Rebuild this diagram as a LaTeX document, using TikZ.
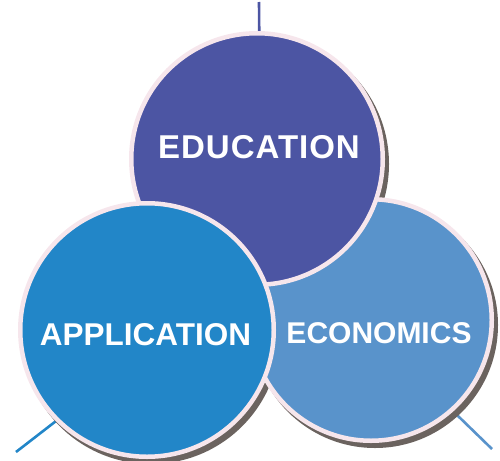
\documentclass[tikz,border=0pt]{standalone}
\usepackage{fontspec}
\setmainfont{Liberation Sans}
\usepackage{xcolor}
\usepackage{tikz}
\usetikzlibrary{backgrounds}

\definecolor{educol}{HTML}{4C55A3}
\definecolor{appcol}{HTML}{2286C8}
\definecolor{ecocol}{HTML}{5993CB}
\definecolor{rimcol}{HTML}{F6E6EC}
\definecolor{shadecol}{HTML}{6B635F}

\tikzset{
	disc/.style={circle, draw=rimcol, line width=4.5pt, inner sep=0pt},
	word/.style={text=white, anchor=base, inner sep=0pt},
	stem/.style={line width=2.6pt},
}

\begin{document}
\begin{tikzpicture}[x=1pt, y=-1pt]
		\useasboundingbox (0,0) rectangle (500,460);

		% Free ends of the stems
		\coordinate (edutip) at (259,2);
		\coordinate (apptip) at (16,452);
		\coordinate (ecotip) at (492,449);

		% The three discs, back to front
		\node[disc, fill=ecocol, minimum size=241.5pt] (eco) at (371,320) {};
		\node[disc, fill=educol, minimum size=251.5pt] (edu) at (257,159) {};
		\node[disc, fill=appcol, minimum size=253.5pt] (app) at (147,330) {};

		% Labels
		\node[word, font=\bfseries\fontsize{33}{33}\selectfont\addfontfeature{LetterSpace=3}] (edulabel) at (259,158) {EDUCATION};
		\node[word, font=\bfseries\fontsize{31.5}{31.5}\selectfont] (applabel) at (145.5,345) {APPLICATION};
		\node[word, font=\bfseries\fontsize{30}{30}\selectfont] (ecolabel) at (379,343) {ECONOMICS};

		% Stems and shadows go behind the discs
		\begin{scope}[on background layer]
			\draw[stem, educol] (edu.89) -- (edutip);
			\draw[stem, appcol] (app.225) -- (apptip);
			\draw[stem, ecocol] (eco.-48) -- (ecotip);
			\foreach \n/\r in {edu/128, app/129, eco/123}
				\fill[shadecol] ([shift={(4,5)}]\n.center) circle[radius=\r];
		\end{scope}
	\end{tikzpicture}
\end{document}
